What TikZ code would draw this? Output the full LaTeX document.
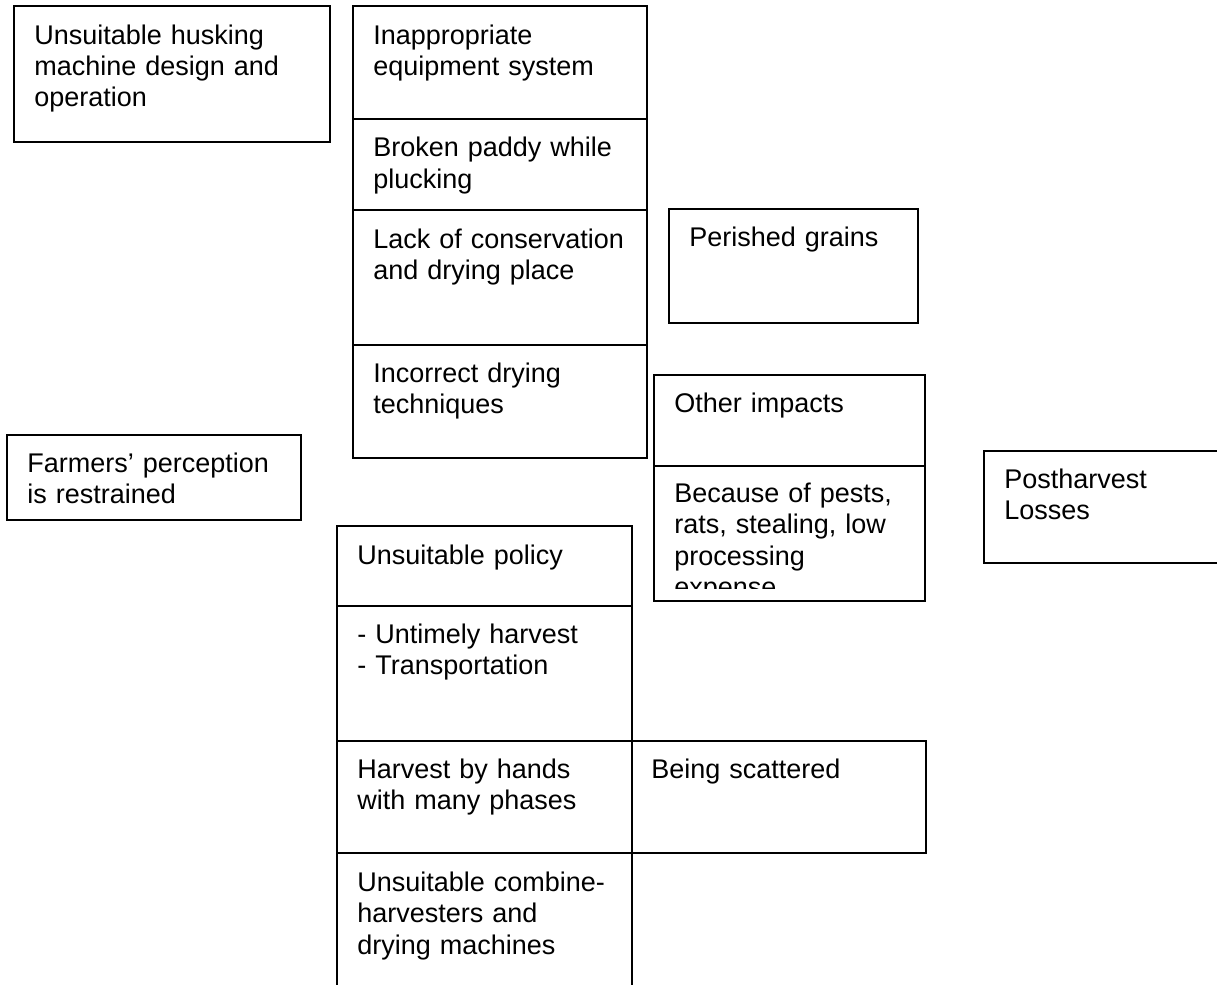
\documentclass[tikz,border=0pt]{standalone}
\usepackage{fontspec}
\setmainfont{Liberation Sans}
\begin{document}
\begin{tikzpicture}[x=0.5pt,y=-0.5pt,
  cell/.style={draw=black, line width=1pt},
  label/.style={anchor=base west, inner sep=0pt, align=left, text width=140pt,
    font=\fontsize{13.5}{15.75}\selectfont}]
\useasboundingbox (0,0) rectangle (1217,985);
\clip (0,0) rectangle (1217,985);

% left column
\draw[cell] (14,6) rectangle (330,142);
\node[label] (husk) at (34,44) {Unsuitable husking\\machine design and\\operation};
\draw[cell] (7,435) rectangle (301,520);
\node[label] (farm) at (27,472) {Farmers’ perception\\is restrained};

% upper middle stack
\draw[cell] (353,6) rectangle (647,119);
\draw[cell] (353,119) rectangle (647,210);
\draw[cell] (353,210) rectangle (647,345);
\draw[cell] (353,345) rectangle (647,458);
\node[label] (equip) at (373,44) {Inappropriate\\equipment system};
\node[label] (broken) at (373,156.5) {Broken paddy while\\plucking};
\node[label] (lack) at (373,248) {Lack of conservation\\and drying place};
\node[label] (dry) at (373,382) {Incorrect drying\\techniques};

% right-hand boxes
\draw[cell] (669,209) rectangle (918,323);
\node[label] (perish) at (689,246) {Perished grains};
\draw[cell] (654,375) rectangle (925,466);
\draw[cell] (654,466) rectangle (925,601);
\node[label] (other) at (674,412) {Other impacts};
\begin{scope}
  \clip (654,466) rectangle (925,588);
  \node[label] (pests) at (674,502) {Because of pests,\\rats, stealing, low\\processing\\expense};
\end{scope}
\draw[cell] (984,451) rectangle (1240,563);
\node[label] (loss) at (1004,488) {Postharvest\\Losses};

% lower middle stack
\draw[cell] (337,526) rectangle (632,606);
\draw[cell] (337,606) rectangle (632,741);
\draw[cell] (337,741) rectangle (632,853);
\draw[cell] (337,853) rectangle (632,1000);
\draw[cell] (632,741) rectangle (926,853);
\node[label] (policy) at (357,564) {Unsuitable policy};
\node[label] (untimely) at (357,643) {- Untimely harvest\\- Transportation};
\node[label] (hands) at (357,778) {Harvest by hands\\with many phases};
\node[label] (scatter) at (651,778) {Being scattered};
\node[label] (combine) at (357,891) {Unsuitable combine-\\harvesters and\\drying machines};
\end{tikzpicture}
\end{document}
